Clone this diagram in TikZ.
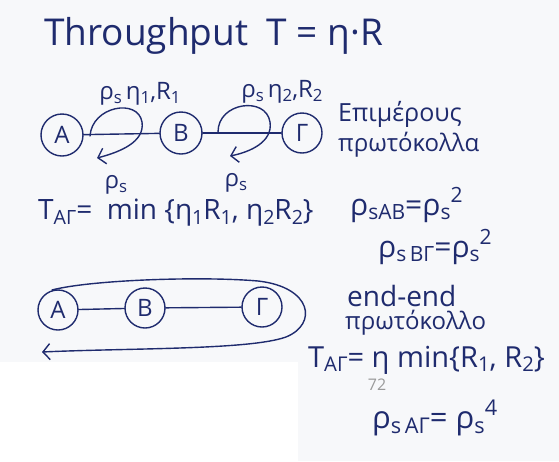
\documentclass[tikz,border=0pt]{standalone}
\usepackage{fontspec}
\setmainfont{Open Sans}
\usetikzlibrary{arrows.meta}
\definecolor{ink}{HTML}{1F2B6E}
\definecolor{paper}{HTML}{F7F8FA}
\definecolor{pagenum}{HTML}{9A9A9A}
\newcommand{\mydn}[1]{\raisebox{-0.3ex}{\scalebox{0.7}{#1}}}
\newcommand{\myup}[1]{\raisebox{0.75ex}{\scalebox{0.7}{#1}}}
\tikzset{
  hand/.style={text=ink, inner sep=0pt, font=\fontsize{24}{26}\selectfont},
  big/.style={font=\fontsize{28}{30}\selectfont},
  station/.style={circle, draw=ink, line width=1.4pt, text=ink, minimum size=42pt, inner sep=0pt, font=\fontsize{24}{26}\selectfont},
  pen/.style={draw=ink, line width=1.4pt, line cap=round},
  barb/.style={-{Straight Barb[length=7pt,width=16pt,line width=1.4pt]}}
}
\begin{document}
\begin{tikzpicture}[x=1pt,y=-1pt]
\useasboundingbox (0,0) rectangle (559,461);
\fill[paper] (0,0) rectangle (559,461);
\fill[white] (0,362) rectangle (298,461);

% title
\node[hand, anchor=west, font=\fontsize{37}{40}\selectfont] (title) at (44,36) {Throughput\hspace{0.5em}T = η·R};

% top row
\node[station] (A1) at (62,135) {A};
\node[station] (B1) at (181,133) {B};
\node[station, minimum size=40pt] (G1) at (302,133) {Γ};
\draw[pen] (A1) -- (B1);
\draw[pen] (B1) -- (G1);

\coordinate (l1s) at (90,136);
\coordinate (l1e) at (97,158);
\draw[pen, barb] (l1s) .. controls (92,106) and (138,98) .. (142,122) .. controls (145,142) and (120,152) .. (l1e);
\coordinate (l2s) at (218,132);
\coordinate (l2e) at (230,156);
\draw[pen, barb] (l2s) .. controls (218,102) and (266,96) .. (270,122) .. controls (273,142) and (250,152) .. (l2e);

\node[hand] (lab1) at (140,94) {ρ\mydn{s}\,η\mydn{1},R\mydn{1}};
\node[hand] (lab2) at (282,92) {ρ\mydn{s}\,η\mydn{2},R\mydn{2}};
\node[hand] (rs1) at (116,185) {ρ\mydn{s}};
\node[hand] (rs2) at (236,183) {ρ\mydn{s}};

\node[hand, anchor=west, font=\fontsize{25}{27}\selectfont] (epi) at (338,114) {Επιμέρους};
\node[hand, anchor=west] (prot1) at (338,145) {πρωτόκολλα};

\node[hand, big, anchor=west] (tag1) at (38,213) {T\mydn{AΓ}=\ \ min\ \{η\mydn{1}R\mydn{1},\ η\mydn{2}R\mydn{2}\}};
\node[hand, anchor=west, font=\fontsize{30}{32}\selectfont] (rab) at (350,205) {ρ\mydn{sAB}=ρ\mydn{s}\myup{2}};
\node[hand, anchor=west, font=\fontsize{30}{32}\selectfont] (rbg) at (378,247) {ρ\mydn{s\,BΓ}=ρ\mydn{s}\myup{2}};

% bottom row
\node[station, minimum size=40pt] (A2) at (58,310) {A};
\node[station, minimum size=40pt] (B2) at (145,308) {B};
\node[station, minimum size=40pt] (G2) at (262,307) {Γ};
\draw[pen] (A2) -- (B2);
\draw[pen] (B2) -- (G2);

\coordinate (os) at (52,290);
\coordinate (oe) at (42,352);
\draw[pen, barb] (os) .. controls (90,280) and (200,276) .. (258,281)
  .. controls (312,287) and (318,324) .. (286,337)
  .. controls (250,350) and (130,348) .. (oe);

\node[hand, anchor=west, font=\fontsize{28}{30}\selectfont] (ee) at (347,296) {end-end};
\node[hand, anchor=west] (prot2) at (345,323) {πρωτόκολλο};
\node[hand, anchor=west, font=\fontsize{29}{31}\selectfont] (tag2) at (308,360) {T\mydn{AΓ}= η min\{R\mydn{1}, R\mydn{2}\}};
\node[text=pagenum, inner sep=0pt, font=\fontsize{16}{18}\selectfont] (pg) at (377,385) {72};
\node[hand, anchor=west, font=\fontsize{31}{33}\selectfont] (rag) at (372,418) {ρ\mydn{s\,AΓ}= ρ\mydn{s}\myup{4}};
\end{tikzpicture}
\end{document}
